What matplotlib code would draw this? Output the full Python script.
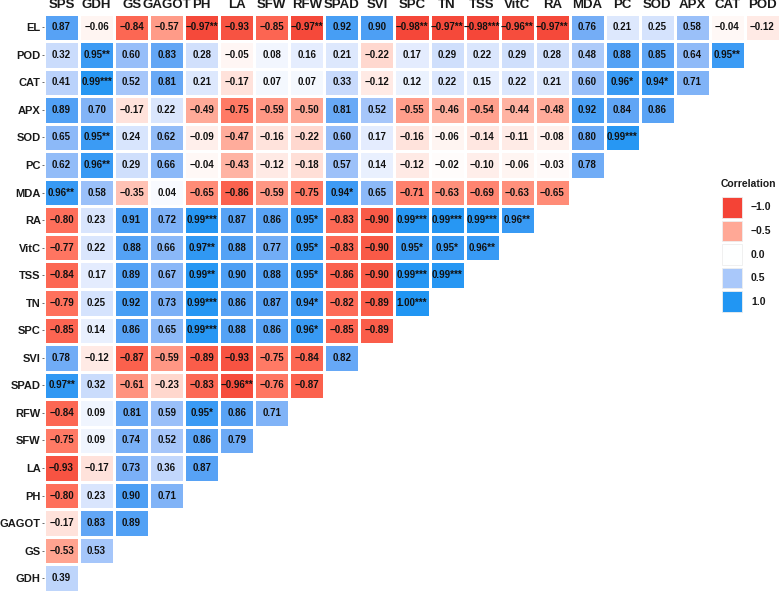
import numpy as np
import matplotlib
matplotlib.use("Agg")
import matplotlib.pyplot as plt
from matplotlib.colors import ListedColormap, Normalize
from matplotlib.patches import Rectangle

plt.rcParams['font.family'] = ['Liberation Sans', 'DejaVu Sans']

columns = ["SPS", "GDH", "GS", "GAGOT", "PH", "LA", "SFW", "RFW", "SPAD", "SVI",
           "SPC", "TN", "TSS", "VitC", "RA", "MDA", "PC", "SOD", "APX", "CAT", "POD"]
rows = ["EL", "POD", "CAT", "APX", "SOD", "PC", "MDA", "RA", "VitC", "TSS", "TN",
        "SPC", "SVI", "SPAD", "RFW", "SFW", "LA", "PH", "GAGOT", "GS", "GDH"]

r_EL = ["0.87", "-0.06", "-0.84", "-0.57", "-0.97**", "-0.93", "-0.85", "-0.97**", "0.92", "0.90",
        "-0.98**", "-0.97**", "-0.98***", "-0.96**", "-0.97**", "0.76", "0.21", "0.25", "0.58", "-0.04", "-0.12"]
r_POD = ["0.32", "0.95**", "0.60", "0.83", "0.28", "-0.05", "0.08", "0.16", "0.21", "-0.22",
         "0.17", "0.29", "0.22", "0.29", "0.28", "0.48", "0.88", "0.85", "0.64", "0.95**"]
r_CAT = ["0.41", "0.99***", "0.52", "0.81", "0.21", "-0.17", "0.07", "0.07", "0.33", "-0.12",
         "0.12", "0.22", "0.15", "0.22", "0.21", "0.60", "0.96*", "0.94*", "0.71"]
r_APX = ["0.89", "0.70", "-0.17", "0.22", "-0.49", "-0.75", "-0.59", "-0.50", "0.81", "0.52",
         "-0.55", "-0.46", "-0.54", "-0.44", "-0.48", "0.92", "0.84", "0.86"]
r_SOD = ["0.65", "0.95**", "0.24", "0.62", "-0.09", "-0.47", "-0.16", "-0.22", "0.60", "0.17",
         "-0.16", "-0.06", "-0.14", "-0.11", "-0.08", "0.80", "0.99***"]
r_PC = ["0.62", "0.96**", "0.29", "0.66", "-0.04", "-0.43", "-0.12", "-0.18", "0.57", "0.14",
        "-0.12", "-0.02", "-0.10", "-0.06", "-0.03", "0.78"]
r_MDA = ["0.96**", "0.58", "-0.35", "0.04", "-0.65", "-0.86", "-0.59", "-0.75", "0.94*", "0.65",
         "-0.71", "-0.63", "-0.69", "-0.63", "-0.65"]
r_RA = ["-0.80", "0.23", "0.91", "0.72", "0.99***", "0.87", "0.86", "0.95*", "-0.83", "-0.90",
        "0.99***", "0.99***", "0.99***", "0.96**"]
r_VitC = ["-0.77", "0.22", "0.88", "0.66", "0.97**", "0.88", "0.77", "0.95*", "-0.83", "-0.90",
          "0.95*", "0.95*", "0.96**"]
r_TSS = ["-0.84", "0.17", "0.89", "0.67", "0.99**", "0.90", "0.88", "0.95*", "-0.86", "-0.90",
         "0.99***", "0.99***"]
r_TN = ["-0.79", "0.25", "0.92", "0.73", "0.99***", "0.86", "0.87", "0.94*", "-0.82", "-0.89",
        "1.00***"]
r_SPC = ["-0.85", "0.14", "0.86", "0.65", "0.99***", "0.88", "0.86", "0.96*", "-0.85", "-0.89"]
r_SVI = ["0.78", "-0.12", "-0.87", "-0.59", "-0.89", "-0.93", "-0.75", "-0.84", "0.82"]
r_SPAD = ["0.97**", "0.32", "-0.61", "-0.23", "-0.83", "-0.96**", "-0.76", "-0.87"]
r_RFW = ["-0.84", "0.09", "0.81", "0.59", "0.95*", "0.86", "0.71"]
r_SFW = ["-0.75", "0.09", "0.74", "0.52", "0.86", "0.79"]
r_LA = ["-0.93", "-0.17", "0.73", "0.36", "0.87"]
r_PH = ["-0.80", "0.23", "0.90", "0.71"]
r_GAGOT = ["-0.17", "0.83", "0.89"]
r_GS = ["-0.53", "0.53"]
r_GDH = ["0.39"]

row_cells = [r_EL, r_POD, r_CAT, r_APX, r_SOD, r_PC, r_MDA, r_RA, r_VitC, r_TSS, r_TN,
             r_SPC, r_SVI, r_SPAD, r_RFW, r_SFW, r_LA, r_PH, r_GAGOT, r_GS, r_GDH]

legend_values = [-1.0, -0.5, 0.0, 0.5, 1.0]

# ---- Lab-interpolated diverging palette (like ggplot's gradient2) ----
def srgb_to_lab(c):
    c = np.asarray(c, float)
    lin = np.where(c <= 0.04045, c / 12.92, ((c + 0.055) / 1.055) ** 2.4)
    M = np.array([[0.4124, 0.3576, 0.1805], [0.2126, 0.7152, 0.0722], [0.0193, 0.1192, 0.9505]])
    xyz = M @ lin / np.array([0.95047, 1.0, 1.08883])
    f = np.where(xyz > 0.008856, np.cbrt(xyz), 7.787 * xyz + 16 / 116)
    return np.array([116 * f[1] - 16, 500 * (f[0] - f[1]), 200 * (f[1] - f[2])])

def lab_to_srgb(lab):
    L, a, b = lab
    fy = (L + 16) / 116
    fx = fy + a / 500
    fz = fy - b / 200
    f = np.array([fx, fy, fz])
    xyz = np.where(f ** 3 > 0.008856, f ** 3, (f - 16 / 116) / 7.787) * np.array([0.95047, 1.0, 1.08883])
    Mi = np.array([[3.2406, -1.5372, -0.4986], [-0.9689, 1.8758, 0.0415], [0.0557, -0.2040, 1.0570]])
    lin = np.clip(Mi @ xyz, 0, 1)
    c = np.where(lin <= 0.0031308, 12.92 * lin, 1.055 * lin ** (1 / 2.4) - 0.055)
    return np.clip(c, 0, 1)

low = np.array([0xF4, 0x43, 0x36]) / 255
mid = np.array([1.0, 1.0, 1.0])
high = np.array([0x21, 0x96, 0xF3]) / 255
lab_low, lab_mid, lab_high = srgb_to_lab(low), srgb_to_lab(mid), srgb_to_lab(high)
cols = []
for t in np.linspace(-1, 1, 256):
    if t < 0:
        lab = lab_mid + (lab_low - lab_mid) * (-t)
    else:
        lab = lab_mid + (lab_high - lab_mid) * t
    cols.append(lab_to_srgb(lab))
cmap = ListedColormap(cols)
norm = Normalize(-1, 1)

# ---- build matrix ----
n_r, n_c = len(rows), len(columns)
vals = np.full((n_r, n_c), np.nan)
labels = [[None] * n_c for _ in range(n_r)]
for i, cells in enumerate(row_cells):
    for j, s in enumerate(cells):
        num = s.rstrip("*")
        vals[i, j] = float(num)
        labels[i][j] = s.replace("-", "\u2212")

W, H = 780, 595
fig = plt.figure(figsize=(W / 100, H / 100), dpi=100)
ax = fig.add_axes([44 / W, 1 - 592 / H, 736 / W, 578.5 / H])
data = np.ma.masked_invalid(vals)
ax.pcolormesh(np.arange(n_c + 1), np.arange(n_r + 1), data, cmap=cmap, norm=norm,
              edgecolors="white", linewidth=0.9)
ax.set_xlim(0, n_c)
ax.set_ylim(n_r, 0)
for i in range(n_r):
    for j in range(n_c):
        if labels[i][j] is not None:
            ax.text(j + 0.5, i + 0.5, labels[i][j], ha="center", va="center",
                    fontsize=7, fontweight="bold", color="#111111")

for s in ax.spines.values():
    s.set_visible(False)
ax.xaxis.tick_top()
ax.set_xticks(np.arange(n_c) + 0.5)
ax.set_xticklabels(columns, fontsize=9.5, fontweight="bold", color="#1a1a1a")
ax.set_yticks(np.arange(n_r) + 0.5)
ax.set_yticklabels(rows, fontsize=8, fontweight="bold", color="#1a1a1a")
ax.tick_params(axis="x", length=0, pad=2)
ax.tick_params(axis="y", length=1.5, width=0.6, color="#555555", pad=0.8)

# ---- legend ----
lax = fig.add_axes([700 / W, 1 - 320 / H, 80 / W, 145 / H])
lax.set_xlim(700, 780)
lax.set_ylim(320, 175)
lax.axis("off")
lax.text(748, 184, "Correlation", ha="center", va="center", fontsize=7.5, fontweight="bold",
         color="#1a1a1a")
for k, v in enumerate(legend_values):
    y0 = 197 + k * 23.6
    lax.add_patch(Rectangle((721.5, y0), 20.5, 20.5, facecolor=cmap(norm(v)),
                            edgecolor="#eeeeee", linewidth=0.6))
    lax.text(751, y0 + 10.3, f"{v:.1f}".replace("-", "\u2212"), ha="left", va="center",
             fontsize=7.5, fontweight="bold", color="#1a1a1a")

fig.savefig("out.png", dpi=100)
